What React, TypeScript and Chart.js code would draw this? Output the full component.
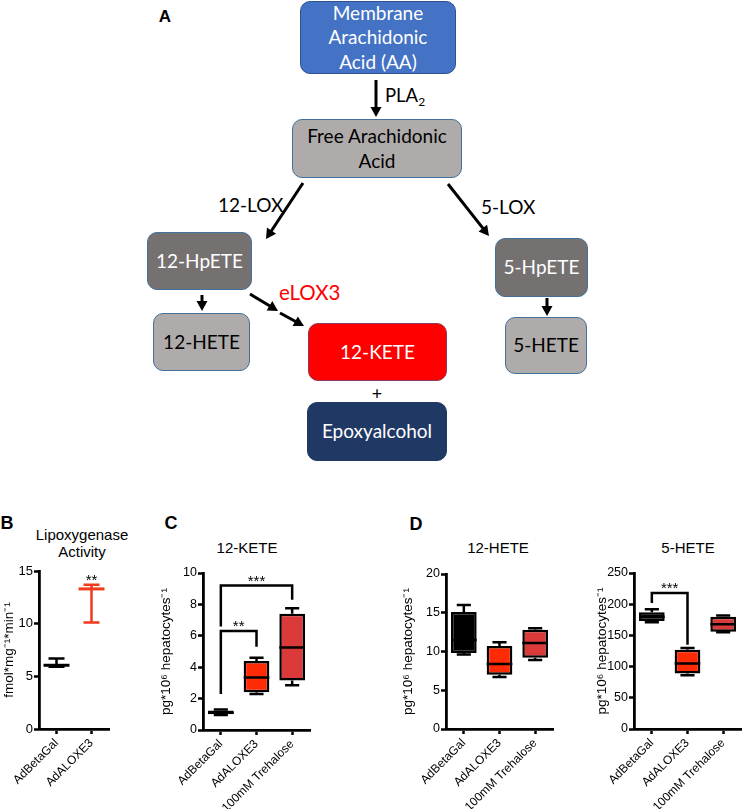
import React, { useEffect, useRef } from 'react';
import { Chart, registerables } from 'chart.js';

Chart.register(...registerables);

const AXIS_FONT = "'Liberation Sans', Arial, Helvetica, sans-serif";
const DIAGRAM_FONT = "Lato, 'Open Sans', sans-serif";

// ---------- data ----------
const groupsB = ['AdBetaGal', 'AdALOXE3'];
const groupsCD = ['AdBetaGal', 'AdALOXE3', '100mM Trehalose'];

// B: Lipoxygenase activity (mean with error range)
const loxMean = [6.05, 13.3];
const loxHigh = [6.7, 13.7];
const loxLow = [5.9, 10.1];

// C: 12-KETE box plots
const keteMin = [0.95, 2.3, 2.85];
const keteQ1 = [1.0, 2.4, 3.15];
const keteMedian = [1.1, 3.35, 5.25];
const keteQ3 = [1.25, 4.4, 7.4];
const keteMax = [1.3, 4.6, 7.75];

// D: 12-HETE box plots
const hete12Min = [9.6, 6.7, 8.9];
const hete12Q1 = [9.8, 7.0, 9.2];
const hete12Median = [11.5, 8.4, 11.1];
const hete12Q3 = [15.1, 10.7, 12.8];
const hete12Max = [16.0, 11.2, 13.0];

// D: 5-HETE box plots
const hete5Min = [171, 86, 155];
const hete5Q1 = [173, 89, 156];
const hete5Median = [180, 105, 168];
const hete5Q3 = [187, 127, 180];
const hete5Max = [192, 130, 182];

// significance annotations
const loxStars = [{ index: 1, value: 13.7, text: '**' }];
const keteBrackets = [
  { from: 0, to: 1, level: 6.3, fromEnd: 2.3, toEnd: 5.3, text: '**' },
  { from: 0, to: 2, level: 9.2, fromEnd: 6.6, toEnd: 8.3, text: '***' },
];
const hete5Brackets = [{ from: 0, to: 1, level: 218, fromEnd: 202, toEnd: 135, text: '***' }];

const boxColors = ['#000000', '#FF2B06', '#DA3A3A'];
const loxColors = ['#000000', '#F23A1C'];

// ---------- plugins ----------
function whiskerPlugin(min: number[], q1: number[], med: number[], q3: number[], max: number[]) {
  return {
    id: 'whiskers',
    afterDatasetsDraw(chart: any) {
      const ctx = chart.ctx;
      const y = chart.scales.y;
      const meta = chart.getDatasetMeta(0);
      ctx.save();
      ctx.strokeStyle = '#000';
      ctx.lineWidth = 2.5;
      meta.data.forEach((bar: any, i: number) => {
        const x = bar.x;
        const w = bar.width;
        const cap = w * 0.55;
        const yMax = y.getPixelForValue(max[i]);
        const yMin = y.getPixelForValue(min[i]);
        const yQ1 = y.getPixelForValue(q1[i]);
        const yQ3 = y.getPixelForValue(q3[i]);
        const yMed = y.getPixelForValue(med[i]);
        ctx.beginPath();
        ctx.moveTo(x, yQ3); ctx.lineTo(x, yMax);
        ctx.moveTo(x - cap / 2, yMax); ctx.lineTo(x + cap / 2, yMax);
        ctx.moveTo(x, yQ1); ctx.lineTo(x, yMin);
        ctx.moveTo(x - cap / 2, yMin); ctx.lineTo(x + cap / 2, yMin);
        ctx.moveTo(x - w / 2, yMed); ctx.lineTo(x + w / 2, yMed);
        ctx.stroke();
      });
      ctx.restore();
    },
  };
}

function errorPlugin(high: number[], low: number[], colors: string[]) {
  return {
    id: 'errorbars',
    afterDatasetsDraw(chart: any) {
      const ctx = chart.ctx;
      const y = chart.scales.y;
      const xs = chart.scales.x;
      ctx.save();
      ctx.lineWidth = 2.5;
      high.forEach((h, i) => {
        const x = xs.getPixelForValue(i);
        const yh = y.getPixelForValue(h);
        const yl = y.getPixelForValue(low[i]);
        const cap = 16;
        ctx.strokeStyle = colors[i];
        ctx.beginPath();
        ctx.moveTo(x, yh); ctx.lineTo(x, yl);
        ctx.moveTo(x - cap / 2, yh); ctx.lineTo(x + cap / 2, yh);
        ctx.moveTo(x - cap / 2, yl); ctx.lineTo(x + cap / 2, yl);
        ctx.stroke();
      });
      ctx.restore();
    },
  };
}

function bracketPlugin(brackets: any[], stars: any[]) {
  return {
    id: 'brackets',
    afterDatasetsDraw(chart: any) {
      const ctx = chart.ctx;
      const y = chart.scales.y;
      const xs = chart.scales.x;
      ctx.save();
      ctx.strokeStyle = '#000';
      ctx.fillStyle = '#000';
      ctx.lineWidth = 2.5;
      ctx.font = `15px ${AXIS_FONT}`;
      ctx.textAlign = 'center';
      ctx.textBaseline = 'alphabetic';
      brackets.forEach((b) => {
        const x1 = xs.getPixelForValue(b.from);
        const x2 = xs.getPixelForValue(b.to);
        const yl = y.getPixelForValue(b.level);
        ctx.beginPath();
        ctx.moveTo(x1, y.getPixelForValue(b.fromEnd));
        ctx.lineTo(x1, yl);
        ctx.lineTo(x2, yl);
        ctx.lineTo(x2, y.getPixelForValue(b.toEnd));
        ctx.stroke();
        ctx.fillText(b.text, (x1 + x2) / 2, yl);
      });
      stars.forEach((s) => {
        const x = xs.getPixelForValue(s.index);
        ctx.fillText(s.text, x, y.getPixelForValue(s.value));
      });
      ctx.restore();
    },
  };
}

// ---------- axes ----------
function makeScales(p: {
  labels: string[]; max: number; step: number; yTitle: string; yWidth: number; xHeight: number; titlePad: number; tickSize: number;
}) {
  const gridCommon = {
    display: true,
    drawOnChartArea: false,
    drawTicks: true,
    tickLength: 5,
    tickWidth: 2.5,
    tickColor: '#000',
    offset: false,
  };
  const border = { display: true, color: '#000', width: 2.8 };
  return {
    x: {
      type: 'category',
      labels: p.labels,
      offset: true,
      grid: gridCommon,
      border,
      ticks: {
        color: '#000',
        font: { family: AXIS_FONT, size: 12 },
        minRotation: 45,
        maxRotation: 45,
        autoSkip: false,
        padding: 2,
      },
      afterFit: (s: any) => { s.height = p.xHeight; },
    },
    y: {
      type: 'linear',
      min: 0,
      max: p.max,
      grid: gridCommon,
      border,
      ticks: {
        stepSize: p.step,
        color: '#000',
        font: { family: AXIS_FONT, size: p.tickSize },
        padding: 1,
      },
      title: {
        display: true,
        text: p.yTitle,
        color: '#000',
        font: { family: AXIS_FONT, size: 13.5 },
        padding: { top: p.titlePad, bottom: 0 },
      },
      afterFit: (s: any) => { s.width = p.yWidth; },
    },
  };
}

const baseOptions = (scales: any, padding: any) => ({
  responsive: false,
  animation: false,
  devicePixelRatio: 1,
  layout: { padding },
  plugins: { legend: { display: false }, tooltip: { enabled: false }, title: { display: false } },
  scales,
});

function boxConfig(
  min: number[], q1: number[], med: number[], q3: number[], max: number[],
  scaleP: any, padding: any, brackets: any[],
) {
  return {
    type: 'bar',
    data: {
      labels: groupsCD,
      datasets: [
        {
          data: q1.map((v, i) => [v, q3[i]]),
          backgroundColor: boxColors,
          borderColor: '#000',
          borderWidth: 2.5,
          borderSkipped: false,
          barPercentage: 0.72,
          categoryPercentage: 1,
        },
      ],
    },
    options: baseOptions(makeScales({ labels: groupsCD, ...scaleP }), padding),
    plugins: [whiskerPlugin(min, q1, med, q3, max), bracketPlugin(brackets, [])],
  };
}

// ---------- diagram helpers ----------
function Box(props: { x: number; y: number; w: number; h: number; bg: string; border: string; color: string; lines: React.ReactNode[]; size?: number }) {
  return (
    <div
      style={{
        position: 'absolute', left: props.x, top: props.y, width: props.w, height: props.h,
        boxSizing: 'border-box', background: props.bg, border: `1.5px solid ${props.border}`, borderRadius: 10,
        display: 'flex', flexDirection: 'column', alignItems: 'center', justifyContent: 'center',
        color: props.color, fontFamily: DIAGRAM_FONT, fontSize: props.size ?? 19, lineHeight: '24.5px', textAlign: 'center',
      }}
    >
      {props.lines.map((l, i) => <div key={i}>{l}</div>)}
    </div>
  );
}

function Text(props: { x: number; y: number; children: React.ReactNode; size: number; bold?: boolean; color?: string; family?: string; anchor?: 'left' | 'center' }) {
  return (
    <div
      style={{
        position: 'absolute', left: props.x, top: props.y,
        transform: props.anchor === 'left' ? 'translate(0,-50%)' : 'translate(-50%,-50%)',
        fontSize: props.size, fontWeight: props.bold ? 'bold' : 'normal', color: props.color ?? '#000',
        fontFamily: props.family ?? AXIS_FONT, whiteSpace: 'nowrap', lineHeight: 1.15, textAlign: 'center',
      }}
    >
      {props.children}
    </div>
  );
}

const arrowList = [
  { x1: 376, y1: 80, x2: 376, y2: 117 },
  { x1: 303, y1: 183, x2: 266, y2: 239 },
  { x1: 448, y1: 184, x2: 489, y2: 236 },
  { x1: 202, y1: 295, x2: 202, y2: 311 },
  { x1: 547, y1: 298, x2: 547, y2: 316 },
  { x1: 250, y1: 294, x2: 278, y2: 311 },
  { x1: 280, y1: 313, x2: 304, y2: 326 },
];

function Arrow({ a }: { a: { x1: number; y1: number; x2: number; y2: number } }) {
  const dx = a.x2 - a.x1;
  const dy = a.y2 - a.y1;
  const len = Math.hypot(dx, dy);
  const ux = dx / len;
  const uy = dy / len;
  const head = 10;
  const half = 5.5;
  const bx = a.x2 - ux * head;
  const by = a.y2 - uy * head;
  const px = -uy;
  const py = ux;
  return (
    <g>
      <line x1={a.x1} y1={a.y1} x2={bx + ux} y2={by + uy} stroke="#000" strokeWidth={3} />
      <polygon points={`${a.x2},${a.y2} ${bx + px * half},${by + py * half} ${bx - px * half},${by - py * half}`} fill="#000" />
    </g>
  );
}

export default function App() {
  const bRef = useRef<HTMLCanvasElement>(null);
  const cRef = useRef<HTMLCanvasElement>(null);
  const d1Ref = useRef<HTMLCanvasElement>(null);
  const d2Ref = useRef<HTMLCanvasElement>(null);

  useEffect(() => {
    const charts: Chart[] = [];

    charts.push(new Chart(bRef.current as HTMLCanvasElement, {
      type: 'line',
      data: {
        labels: groupsB,
        datasets: [
          {
            data: loxMean,
            showLine: false,
            pointStyle: 'line',
            pointRadius: 13,
            pointBorderWidth: 3,
            pointBorderColor: loxColors,
            pointBackgroundColor: loxColors,
          },
        ],
      },
      options: baseOptions(
        makeScales({ labels: groupsB, max: 15, step: 5, yTitle: 'fmol*mg⁻¹*min⁻¹', yWidth: 39, xHeight: 80, titlePad: 1, tickSize: 13 }),
        { left: 0, top: 71, right: 15, bottom: 0 },
      ),
      plugins: [errorPlugin(loxHigh, loxLow, loxColors), bracketPlugin([], loxStars)],
    } as any));

    charts.push(new Chart(cRef.current as HTMLCanvasElement, boxConfig(
      keteMin, keteQ1, keteMedian, keteQ3, keteMax,
      { max: 10, step: 2, yTitle: 'pg*10⁶ hepatocytes⁻¹', yWidth: 73, xHeight: 79, titlePad: 28, tickSize: 12.5 },
      { left: 0, top: 73, right: 5, bottom: 0 }, keteBrackets,
    ) as any));

    charts.push(new Chart(d1Ref.current as HTMLCanvasElement, boxConfig(
      hete12Min, hete12Q1, hete12Median, hete12Q3, hete12Max,
      { max: 20, step: 5, yTitle: 'pg*10⁶ hepatocytes⁻¹', yWidth: 71, xHeight: 80, titlePad: 25, tickSize: 12.5 },
      { left: 0, top: 74, right: 7, bottom: 0 }, [],
    ) as any));

    charts.push(new Chart(d2Ref.current as HTMLCanvasElement, boxConfig(
      hete5Min, hete5Q1, hete5Median, hete5Q3, hete5Max,
      { max: 250, step: 50, yTitle: 'pg*10⁶ hepatocytes⁻¹', yWidth: 69, xHeight: 80, titlePad: 29, tickSize: 12.5 },
      { left: 0, top: 73, right: 1, bottom: 0 }, hete5Brackets,
    ) as any));

    return () => charts.forEach((c) => c.destroy());
  }, []);

  const canvasStyle = (left: number, top: number): React.CSSProperties => ({ position: 'absolute', left, top });

  return (
    <div style={{ position: 'absolute', left: 0, top: 0, width: 742, height: 809, background: '#fff', overflow: 'hidden' }}>
      {/* Panel A: pathway diagram */}
      <Text x={165} y={17} size={17} bold>A</Text>
      <Box x={300} y={1} w={156} h={73} bg="#4472C4" border="#2F528F" color="#fff" lines={['Membrane', 'Arachidonic', 'Acid (AA)']} />
      <Box x={292} y={119} w={170} h={59} bg="#AFABAB" border="#41719C" color="#000" lines={['Free Arachidonic', 'Acid']} />
      <Box x={147} y={232} w={105} h={58} bg="#767171" border="#41719C" color="#fff" lines={['12-HpETE']} />
      <Box x={495} y={238} w={93} h={59} bg="#767171" border="#41719C" color="#fff" lines={['5-HpETE']} />
      <Box x={153} y={313} w={97} h={58} bg="#AFABAB" border="#41719C" color="#000" lines={['12-HETE']} />
      <Box x={505} y={317} w={82} h={57} bg="#AFABAB" border="#41719C" color="#000" lines={['5-HETE']} />
      <Box x={308} y={323} w={139} h={58} bg="#FF0000" border="#8B3A5A" color="#fff" lines={['12-KETE']} />
      <Box x={307} y={402} w={140} h={59} bg="#203864" border="#203864" color="#fff" lines={['Epoxyalcohol']} />
      <svg width={742} height={470} style={{ position: 'absolute', left: 0, top: 0 }}>
        {arrowList.map((a, i) => <Arrow key={i} a={a} />)}
      </svg>
      <Text x={385} y={97} size={18.5} family={DIAGRAM_FONT} anchor="left">PLA<sub style={{ fontSize: 12 }}>2</sub></Text>
      <Text x={218} y={205} size={19} family={DIAGRAM_FONT} anchor="left">12-LOX</Text>
      <Text x={481} y={207} size={19} family={DIAGRAM_FONT} anchor="left">5-LOX</Text>
      <Text x={279} y={293} size={20.5} family={DIAGRAM_FONT} anchor="left" color="#FF0000">eLOX3</Text>
      <Text x={377} y={393} size={18} family={DIAGRAM_FONT}>+</Text>

      {/* Panel labels and titles */}
      <Text x={7} y={523} size={18} bold>B</Text>
      <Text x={82} y={543} size={15}>Lipoxygenase<br />Activity</Text>
      <Text x={171} y={523} size={18} bold>C</Text>
      <Text x={247} y={548} size={15}>12-KETE</Text>
      <Text x={416} y={524} size={18} bold>D</Text>
      <Text x={498} y={548} size={15}>12-HETE</Text>
      <Text x={688} y={548} size={15}>5-HETE</Text>

      <canvas ref={bRef} width={125} height={309} style={canvasStyle(0, 500)} />
      <canvas ref={cRef} width={185} height={309} style={canvasStyle(130, 500)} />
      <canvas ref={d1Ref} width={185} height={309} style={canvasStyle(375, 500)} />
      <canvas ref={d2Ref} width={177} height={309} style={canvasStyle(565, 500)} />
    </div>
  );
}
